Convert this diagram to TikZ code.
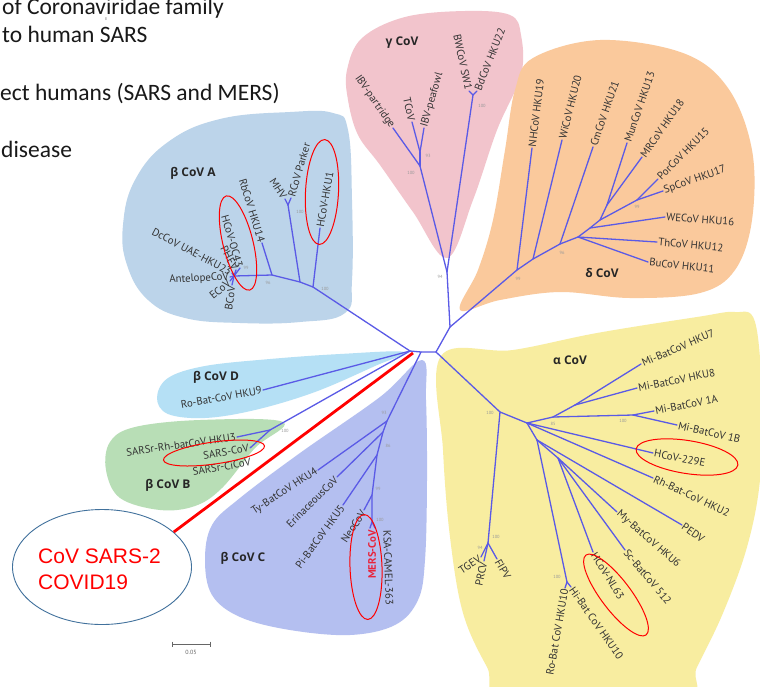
\documentclass[tikz,border=0pt]{standalone}
\usepackage{fontspec}
\setmainfont{PT Sans}
\newfontfamily\grpf{Open Sans}
\newfontfamily\calf{Carlito}
\newfontfamily\arlf{Liberation Sans}
\usetikzlibrary{shapes.geometric}
\definecolor{brc}{HTML}{5A5AE6}
\definecolor{txt}{HTML}{333333}
\definecolor{cA}{HTML}{BCD4EA}
\definecolor{cG}{HTML}{F2C4CC}
\definecolor{cDl}{HTML}{FAC99C}
\definecolor{cAl}{HTML}{F8EDA0}
\definecolor{cD}{HTML}{B5E0F5}
\definecolor{cB}{HTML}{B8DEB6}
\definecolor{cC}{HTML}{B4BFF0}
\definecolor{ellb}{HTML}{41719C}
\definecolor{mersred}{HTML}{E8243C}
\begin{document}
\begin{tikzpicture}[x=1pt,y=-1pt,
  br/.style={draw=brc, line width=1.3pt, line cap=round, line join=round},
  lbl/.style={font=\fontsize{10.8}{12}\selectfont, text=txt, inner sep=1.2pt},
  labw/.style={lbl, anchor=west},
  labe/.style={lbl, anchor=east},
  bsv/.style={font=\fontsize{4.5}{5}\selectfont, text=black!40, inner sep=0pt},
  grp/.style={font=\grpf\bfseries\fontsize{12}{14}\selectfont, text=black!85, inner sep=0pt},
  redell/.style={ellipse, draw=red, line width=1pt, inner sep=0pt},
  toptext/.style={anchor=base west, inner sep=0pt, font=\calf\fontsize{23.5}{28}\selectfont, text=black!90}
]
\useasboundingbox (0,0) rectangle (760,686);
\begin{scope}
\clip (0,0) rectangle (760,686);
\fill[white] (0,0) rectangle (760,686);
% ---------- clade blobs ----------
\fill[cA] plot[smooth cycle, tension=0.7] coordinates {(123,225) (135,180) (168,142) (220,119) (290,112) (333,113) (348,130) (352,200) (352,280) (345,313) (300,322) (240,323) (185,318) (148,300) (127,265)};
\fill[cG] plot[smooth cycle, tension=0.6] coordinates {(447,258) (413,212) (380,165) (358,135) (348,100) (347,70) (362,38) (405,17) (465,11) (510,15) (521,35) (521,75) (497,130) (473,200)};
\fill[cDl] plot[smooth cycle, tension=0.6] coordinates {(460,310) (478,270) (493,220) (505,150) (515,90) (533,58) (600,40) (683,53) (728,88) (752,150) (752,220) (735,270) (700,293) (630,298) (560,292) (500,300)};
\fill[cAl] plot[smooth cycle, tension=0.6] coordinates {(441,356) (513,350) (597,333) (697,317) (735,312) (755,322) (762,400) (760,480) (747,547) (723,613) (697,667) (680,700) (510,700) (487,667) (463,613) (450,537) (443,450)};
\fill[cD] plot[smooth cycle, tension=0.6] coordinates {(404,352) (340,354) (270,359) (205,366) (168,378) (157,398) (168,414) (205,418) (255,410) (315,392) (375,366)};
\fill[cB] plot[smooth cycle, tension=0.6] coordinates {(283,422) (255,448) (222,488) (195,506) (160,510) (120,498) (106,470) (110,442) (135,427) (200,420)};
\fill[cC] plot[smooth cycle, tension=0.6] coordinates {(422,360) (426,400) (427,480) (425,560) (418,600) (395,625) (350,635) (290,630) (240,617) (212,595) (205,560) (212,525) (240,498) (300,453) (380,397)};
\end{scope}

% ---------- top text ----------
\node[toptext] (t1) at (2,14) {of Coronaviridae family};
\node[toptext] (t2) at (2,42) {to human SARS};
\node[toptext] (t3) at (0,100) {ect humans (SARS and MERS)};
\node[toptext] (t4) at (1,157) {disease};
\node[font=\fontsize{4}{4}\selectfont, text=gray, inner sep=0pt] (t8) at (106,19) {8};

% ---------- root ----------
\coordinate (r1) at (410,351);
\coordinate (r3) at (421,352);
\coordinate (r2) at (436,352);
\draw[br] (r1) -- (r3) -- (r2);

% ---------- beta A ----------
\coordinate (A1) at (313,287); \coordinate (A2) at (300,282);
\coordinate (A3) at (272,275); \coordinate (A4) at (234,276);
\coordinate (AMR) at (288,205);
\coordinate (tHKU1) at (320,228); \coordinate (tMHV) at (285,199); \coordinate (tRCoV) at (291,198);
\coordinate (tHKU14) at (262,243); \coordinate (tOC43) at (240,268); \coordinate (tPHEV) at (236,270);
\coordinate (tDc) at (232,273); \coordinate (tAnt) at (230,277); \coordinate (tE) at (230,281); \coordinate (tB) at (232,285);
\draw[br] (r1) -- (A1) -- (A2) -- (A3) -- (A4);
\draw[br] (A1) -- (tHKU1);
\draw[br] (A2) -- (AMR); \draw[br] (AMR) -- (tMHV); \draw[br] (AMR) -- (tRCoV);
\draw[br] (A3) -- (tHKU14);
\draw[br] (A4) -- (tOC43); \draw[br] (A4) -- (tPHEV); \draw[br] (A4) -- (tDc);
\draw[br] (A4) -- (tAnt); \draw[br] (A4) -- (tE); \draw[br] (A4) -- (tB);

% ---------- gamma ----------
\coordinate (G0) at (450,327); \coordinate (G1) at (447,272); \coordinate (G2) at (420,166);
\coordinate (G4) at (420,152); \coordinate (G3) at (473,95);
\coordinate (tIBVp) at (393,128); \coordinate (tT) at (412,122); \coordinate (tIBVf) at (424,128);
\coordinate (tBW) at (469,91); \coordinate (tBd) at (477,91);
\draw[br] (r2) -- (G0); \draw[br] (G0) -- (G1);
\draw[br] (G1) -- (G2); \draw[br] (G1) -- (G3);
\draw[br] (G2) -- (tIBVp); \draw[br] (G2) -- (G4);
\draw[br] (G4) -- (tT); \draw[br] (G4) -- (tIBVf);
\draw[br] (G3) -- (tBW); \draw[br] (G3) -- (tBd);

% ---------- delta ----------
\coordinate (D1) at (517,270); \coordinate (D2) at (533,259); \coordinate (D3) at (560,244);
\coordinate (D4) at (578,237); \coordinate (D5) at (590,228); \coordinate (D6) at (600,220);
\coordinate (DM) at (607,205); \coordinate (DP) at (637,200);
\coordinate (tNH) at (532,148); \coordinate (tWi) at (562,140); \coordinate (tCm) at (593,147);
\coordinate (tMun) at (627,143); \coordinate (tMR) at (642,157); \coordinate (tPor) at (658,179);
\coordinate (tSp) at (663,191); \coordinate (tWE) at (665,217); \coordinate (tTh) at (657,242);
\coordinate (tBu) at (648,262);
\draw[br] (G0) -- (D1) -- (D2) -- (D3) -- (D4) -- (D5) -- (D6);
\draw[br] (D1) -- (tNH); \draw[br] (D2) -- (tWi); \draw[br] (D3) -- (tCm);
\draw[br] (D4) -- (tBu); \draw[br] (D4) -- (tTh); \draw[br] (D5) -- (tWE);
\draw[br] (D6) -- (DM); \draw[br] (DM) -- (tMun); \draw[br] (DM) -- (tMR);
\draw[br] (D6) -- (DP); \draw[br] (DP) -- (tPor); \draw[br] (DP) -- (tSp);

% ---------- alpha ----------
\coordinate (Al1) at (500,412); \coordinate (Al2) at (527,423); \coordinate (Al3) at (537,440);
\coordinate (Al4) at (558,458); \coordinate (M0) at (553,417); \coordinate (MN) at (575,405);
\coordinate (M1) at (633,415); \coordinate (TG) at (488,543); \coordinate (RH) at (567,582);
\coordinate (t229E) at (653,453); \coordinate (tRh) at (653,478); \coordinate (tPEDV) at (682,525);
\coordinate (tMy) at (617,512); \coordinate (tSc) at (625,550); \coordinate (tNL63) at (593,552);
\coordinate (tH7) at (641,364); \coordinate (tH8) at (637,388); \coordinate (t1A) at (654,411);
\coordinate (t1B) at (677,425); \coordinate (tTGEV) at (481,557); \coordinate (tPRCV) at (484,561);
\coordinate (tFIPV) at (497,559); \coordinate (tRo) at (565,588); \coordinate (tHi) at (571,587);
\draw[br] (r2) -- (Al1); \draw[br] (Al1) -- (TG); \draw[br] (Al1) -- (Al2);
\draw[br] (Al2) -- (M0); \draw[br] (Al2) -- (t229E); \draw[br] (Al2) -- (tRh); \draw[br] (Al2) -- (Al3);
\draw[br] (Al3) -- (RH); \draw[br] (Al3) -- (tPEDV); \draw[br] (Al3) -- (Al4);
\draw[br] (Al4) -- (tMy); \draw[br] (Al4) -- (tSc); \draw[br] (Al4) -- (tNL63);
\draw[br] (M0) -- (MN); \draw[br] (MN) -- (tH7); \draw[br] (MN) -- (tH8);
\draw[br] (M0) -- (M1); \draw[br] (M1) -- (t1A); \draw[br] (M1) -- (t1B);
\draw[br] (TG) -- (tTGEV); \draw[br] (TG) -- (tPRCV); \draw[br] (TG) -- (tFIPV);
\draw[br] (RH) -- (tRo); \draw[br] (RH) -- (tHi);

% ---------- beta C ----------
\coordinate (C1) at (387,421); \coordinate (C2) at (383,432); \coordinate (C3) at (377,455);
\coordinate (C4) at (372,495); \coordinate (C5) at (372,522);
\coordinate (tTy) at (318,470); \coordinate (tEri) at (337,477); \coordinate (tPi) at (343,505);
\coordinate (tNeo) at (364,510); \coordinate (tMERS) at (370,528); \coordinate (tKSA) at (375,528);
\draw[br] (r3) -- (C1) -- (C2) -- (C3) -- (C4) -- (C5);
\draw[br] (C1) -- (tTy); \draw[br] (C2) -- (tEri); \draw[br] (C3) -- (tPi);
\draw[br] (C4) -- (tNeo); \draw[br] (C5) -- (tMERS); \draw[br] (C5) -- (tKSA);

% ---------- beta B, D ----------
\coordinate (B1) at (270,430); \coordinate (tHKU3) at (237,437); \coordinate (tSARS) at (250,448);
\coordinate (tHKU9) at (263,390);
\draw[br] (r1) -- (B1); \draw[br] (B1) -- (tHKU3); \draw[br] (B1) -- (tSARS);
\draw[br] (r1) -- (tHKU9);

% ---------- bootstrap values ----------
\node[bsv] (b1) at (325,289) {100}; \node[bsv] (b2) at (300,212) {100};
\node[bsv] (b3) at (268,283) {96}; \node[bsv] (b4) at (246,268) {99};
\node[bsv] (b5) at (440,277) {94}; \node[bsv] (b6) at (411,173) {100};
\node[bsv] (b7) at (428,156) {93}; \node[bsv] (b8) at (482,106) {100};
\node[bsv] (b9) at (518,279) {99}; \node[bsv] (b10) at (562,253) {96};
\node[bsv] (b11) at (637,207) {99}; \node[bsv] (b12) at (490,413) {100};
\node[bsv] (b13) at (553,424) {85}; \node[bsv] (b14) at (623,421) {100};
\node[bsv] (b15) at (496,537) {100}; \node[bsv] (b16) at (480,548) {94};
\node[bsv] (b17) at (557,577) {100}; \node[bsv] (b18) at (384,413) {93};
\node[bsv] (b19) at (388,446) {86}; \node[bsv] (b20) at (378,489) {99};
\node[bsv] (b21) at (380,520) {100}; \node[bsv] (b22) at (285,431) {100};

% ---------- leaf labels ----------
\node[labw, rotate=80] (lHKU1) at (tHKU1) {HCoV-HKU1};
\node[labw, rotate=74] (lRCoV) at (tRCoV) {RCoV Parker};
\node[labe, rotate=-57] (lMHV) at (tMHV) {MHV};
\node[labe, rotate=-73] (lHKU14) at (tHKU14) {RbCoV HKU14};
\node[labe, rotate=-74] (lOC43) at (tOC43) {HCoV-OC43};
\node[labe, rotate=-62] (lPHEV) at (tPHEV) {PHEV};
\node[labe, rotate=-28] (lDc) at (tDc) {DcCoV UAE-HKU23};
\node[labe, rotate=3] (lAnt) at (tAnt) {AntelopeCoV};
\node[labe, rotate=40] (lE) at (tE) {ECoV};
\node[labe, rotate=82] (lB) at (tB) {BCoV};

\node[labe, rotate=-55] (lIBVp) at (tIBVp) {IBV-partridge};
\node[labe, rotate=-78] (lT) at (tT) {TCoV};
\node[labw, rotate=74] (lIBVf) at (tIBVf) {IBV-peafowl};
\node[labe, rotate=-78] (lBW) at (tBW) {BWCoV SW1};
\node[labw, rotate=68] (lBd) at (tBd) {BdCoV HKU22};

\node[labw, rotate=83] (lNH) at (tNH) {NHCoV HKU19};
\node[labw, rotate=76] (lWi) at (tWi) {WiCoV HKU20};
\node[labw, rotate=71] (lCm) at (tCm) {CmCoV HKU21};
\node[labw, rotate=71] (lMun) at (tMun) {MunCoV HKU13};
\node[labw, rotate=55] (lMR) at (tMR) {MRCoV HKU18};
\node[labw, rotate=45] (lPor) at (tPor) {PorCoV HKU15};
\node[labw, rotate=19] (lSp) at (tSp) {SpCoV HKU17};
\node[labw, rotate=-4] (lWE) at (tWE) {WECoV HKU16};
\node[labw, rotate=-5] (lTh) at (tTh) {ThCoV HKU12};
\node[labw, rotate=-6] (lBu) at (tBu) {BuCoV HKU11};

\node[labw, rotate=23.5] (lH7) at (tH7) {Mi-BatCoV HKU7};
\node[labw, rotate=11.5] (lH8) at (tH8) {Mi-BatCoV HKU8};
\node[labw, rotate=11] (l1A) at (t1A) {Mi-BatCoV 1A};
\node[labw, rotate=-13] (l1B) at (t1B) {Mi-BatCoV 1B};
\node[labw, rotate=-11] (l229E) at (t229E) {HCoV-229E};
\node[labw, rotate=-25] (lRh) at (tRh) {Rh-Bat-CoV HKU2};
\node[labw, rotate=-35] (lPEDV) at (tPEDV) {PEDV};
\node[labw, rotate=-41] (lMy) at (tMy) {My-BatCoV HKU6};
\node[labw, rotate=-50] (lSc) at (tSc) {Sc-BatCoV 512};
\node[labw, rotate=-58] (lNL63) at (tNL63) {HCoV-NL63};
\node[labw, rotate=-55] (lHi) at (tHi) {Hi-Bat CoV HKU10};
\node[labe, rotate=80] (lRo) at (tRo) {Ro-Bat CoV HKU10};
\node[labe, rotate=33] (lTGEV) at (tTGEV) {TGEV};
\node[labe, rotate=78] (lPRCV) at (tPRCV) {PRCV};
\node[labw, rotate=-60] (lFIPV) at (tFIPV) {FIPV};

\node[labe, rotate=33] (lTy) at (tTy) {Ty-BatCoV HKU4};
\node[labe, rotate=45] (lEri) at (tEri) {ErinaceousCoV};
\node[labe, rotate=54] (lPi) at (tPi) {Pi-BatCoV HKU5};
\node[labe, rotate=57] (lNeo) at (tNeo) {NeoCoV};
\node[labe, rotate=90, text=mersred, font=\bfseries\fontsize{10.8}{12}\selectfont] (lMERS) at (372,529) {MERS-CoV};
\node[labw, rotate=-88] (lKSA) at (387,529) {KSA-CAMEL-363};

\node[labe, rotate=8] (lHKU3) at (tHKU3) {SARSr-Rh-batCoV HKU3};
\node[labe, rotate=9] (lSARS) at (tSARS) {SARS-CoV};
\node[labe, rotate=9] (lCi) at (252,462) {SARSr-CiCoV};
\node[labe, rotate=10] (lHKU9) at (tHKU9) {Ro-Bat-CoV HKU9};

% ---------- group labels ----------
\node[grp] (gA) at (193,173) {β CoV A};
\node[grp] (gG) at (402,43) {γ CoV};
\node[grp] (gDl) at (602,273) {δ CoV};
\node[grp] (gAl) at (570,360) {α CoV};
\node[grp] (gD) at (216,377) {β CoV D};
\node[grp] (gB) at (168,485) {β CoV B};
\node[grp] (gC) at (243,558) {β CoV C};

% ---------- red ellipses ----------
\node[redell, minimum width=33pt, minimum height=105pt, rotate=-3] (e1) at (322,192) {};
\node[redell, minimum width=30pt, minimum height=97pt, rotate=14] (e2) at (238,243) {};
\node[redell, minimum width=103pt, minimum height=33pt, rotate=-9] (e3) at (687,457) {};
\node[redell, minimum width=100pt, minimum height=30pt, rotate=-53] (e4) at (616,595) {};
\node[redell, minimum width=32pt, minimum height=105pt, rotate=2] (e5) at (366,567) {};
\node[redell, minimum width=102pt, minimum height=22pt, rotate=8] (e6) at (214,453) {};

% ---------- SARS-2 callout ----------
\node[ellipse, draw=ellb, line width=0.9pt, minimum width=179pt, minimum height=115pt, inner sep=0pt, fill=white] (big) at (102,567) {};
\coordinate (rl) at (413,353);
\draw[red, line width=2.8pt] (rl) -- (big.26);
\node[anchor=base west, inner sep=0pt, font=\arlf\fontsize{21}{25}\selectfont, text=red] (s1) at (38,563) {CoV SARS-2};
\node[anchor=base west, inner sep=0pt, font=\arlf\fontsize{21}{25}\selectfont, text=red] (s2) at (38,589) {COVID19};

% ---------- scale bar ----------
\coordinate (sb1) at (172,644); \coordinate (sb2) at (210,644);
\draw[black!60, line width=0.6pt] (sb1) -- (sb2);
\draw[black!60, line width=0.6pt] (sb1) ++(0,-2.5) -- ++(0,5);
\draw[black!60, line width=0.6pt] (sb2) ++(0,-2.5) -- ++(0,5);
\node[font=\fontsize{6}{7}\selectfont, text=black!60, inner sep=0pt] (sbl) at (191,652) {0.05};
\end{tikzpicture}
\end{document}
